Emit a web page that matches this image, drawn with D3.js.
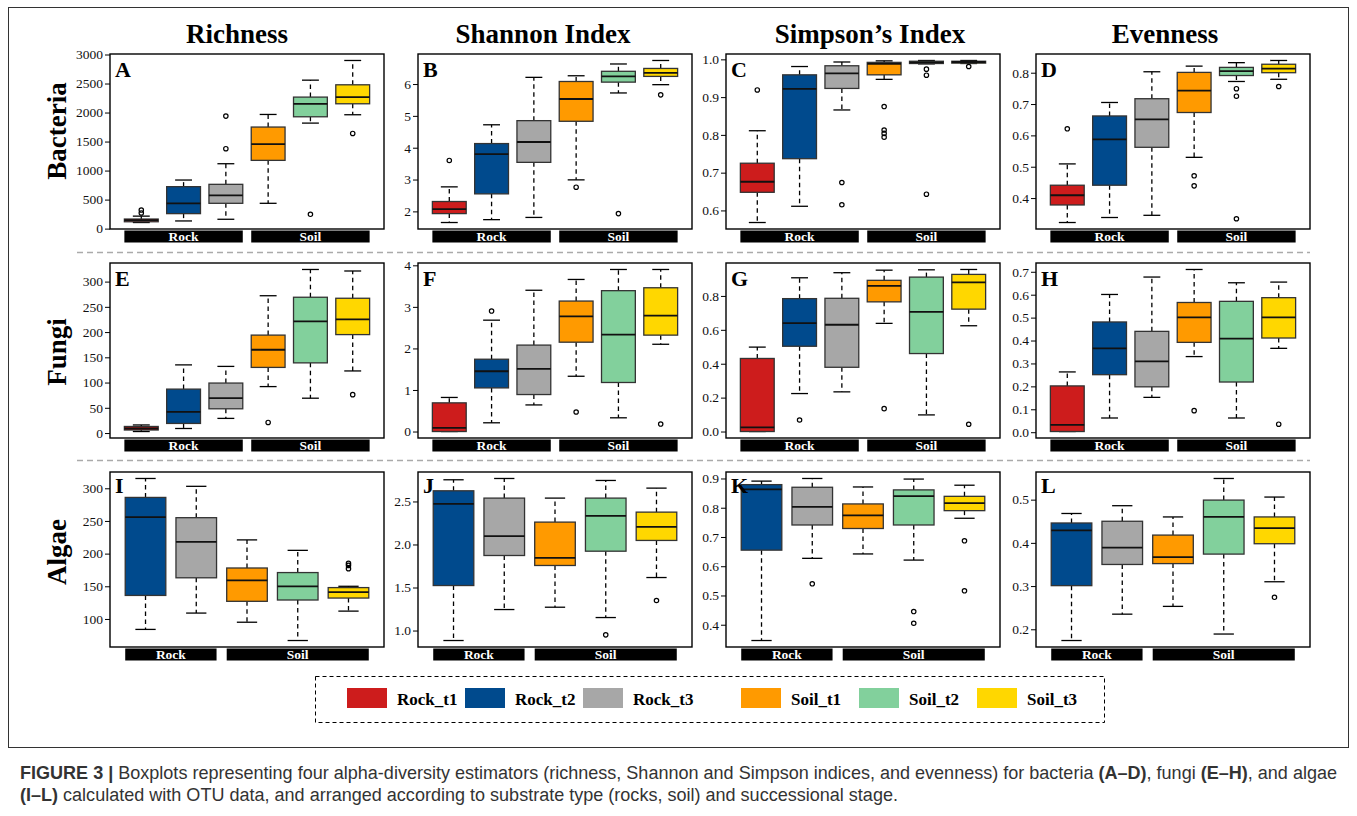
<!DOCTYPE html>
<html>
<head>
<meta charset="utf-8">
<script src="https://cdn.jsdelivr.net/npm/d3@7"></script>
<style>body{margin:0;background:#fff}</style>
</head>
<body>
<svg id="fig" width="1357" height="816"></svg>
<script>
// ---------------- data ----------------
const groups = ["Rock_t1", "Rock_t2", "Rock_t3", "Soil_t1", "Soil_t2", "Soil_t3"];
const columns = ["Richness", "Shannon Index", "Simpson\u2019s Index", "Evenness"];
const rows = ["Bacteria", "Fungi", "Algae"];
const letters = ["A","B","C","D","E","F","G","H","I","J","K","L"];

// each box: [lower whisker, q1, median, q3, upper whisker]
// Bacteria
const statsA = [[105,118,145,165,215],[132,258,436,723,837],[161,436,574,763,1118],[436,1176,1457,1750,1967],[1818,1927,2151,2266,2558],[1962,2151,2266,2478,2897]];
const outA = [[270,320],[],[1377,1939],[],[247],[1640]];
const statsB = [[1.65,1.93,2.07,2.31,2.77],[1.74,2.55,3.80,4.13,4.72],[1.81,3.54,4.18,4.85,6.21],[2.99,4.83,5.53,6.08,6.26],[5.72,6.06,6.24,6.40,6.63],[5.98,6.24,6.35,6.49,6.74]];
const outB = [[3.60],[],[],[2.76],[1.93],[5.66]];
const statsC = [[0.568,0.648,0.676,0.725,0.811],[0.611,0.737,0.922,0.959,0.981],[0.866,0.923,0.963,0.983,0.993],[0.947,0.959,0.988,0.992,0.996],[0.988,0.989,0.992,0.995,0.997],[0.989,0.990,0.993,0.995,0.997]];
const outC = [[0.919],[],[0.674,0.615],[0.875,0.813,0.804,0.794],[0.974,0.958,0.643],[0.981]];
const statsD = [[0.322,0.378,0.409,0.441,0.509],[0.338,0.441,0.587,0.662,0.705],[0.345,0.562,0.651,0.717,0.803],[0.530,0.673,0.743,0.801,0.821],[0.772,0.791,0.805,0.817,0.832],[0.779,0.800,0.813,0.827,0.839]];
const outD = [[0.621],[],[],[0.471,0.439],[0.749,0.725,0.334],[0.756]];
// Fungi
const statsE = [[3,6,9,13,16],[9,19,42,87,135],[29,48,69,99,132],[92,130,165,194,272],[69,139,221,269,324],[123,195,225,267,321]];
const outE = [[],[],[],[21],[],[76]];
const statsF = [[0,0,0.09,0.69,0.82],[0.21,1.05,1.45,1.74,2.68],[0.64,0.89,1.51,2.08,3.40],[1.33,2.15,2.77,3.14,3.66],[0.33,1.18,2.33,3.39,3.90],[2.10,2.32,2.79,3.46,3.90]];
const outF = [[],[2.90],[],[0.47],[],[0.18]];
const statsG = [[0,0,0.025,0.431,0.498],[0.224,0.503,0.640,0.784,0.907],[0.234,0.379,0.630,0.786,0.937],[0.638,0.765,0.859,0.892,0.952],[0.098,0.460,0.706,0.911,0.954],[0.624,0.722,0.880,0.927,0.956]];
const outG = [[],[0.068],[],[0.135],[],[0.043]];
const statsH = [[0.003,0.003,0.032,0.202,0.263],[0.062,0.251,0.366,0.481,0.601],[0.152,0.198,0.309,0.440,0.677],[0.330,0.392,0.501,0.566,0.710],[0.062,0.219,0.408,0.571,0.652],[0.366,0.411,0.501,0.587,0.655]];
const outH = [[],[],[],[0.094],[],[0.035]];
// Algae (no Rock_t1)
const statsI = [[84,136,256,286,315],[109,163,218,255,303],[95,127,159,178,221],[67,129,150,171,205],[112,132,141,148,150]];
const outI = [[],[],[],[],[177,182,185]];
const statsJ = [[0.884,1.523,2.473,2.624,2.752],[1.244,1.872,2.097,2.539,2.767],[1.271,1.756,1.845,2.260,2.539],[1.151,1.922,2.333,2.539,2.744],[1.616,2.047,2.205,2.376,2.655]];
const outJ = [[],[],[],[0.95],[1.349]];
const statsK = [[0.346,0.655,0.863,0.879,0.891],[0.627,0.741,0.803,0.870,0.900],[0.642,0.729,0.774,0.813,0.871],[0.621,0.741,0.840,0.861,0.898],[0.764,0.790,0.816,0.839,0.877]];
const outK = [[],[0.540],[],[0.445,0.405],[0.687,0.516]];
const statsL = [[0.174,0.301,0.429,0.446,0.468],[0.235,0.350,0.389,0.450,0.486],[0.253,0.352,0.367,0.418,0.460],[0.189,0.374,0.460,0.499,0.549],[0.310,0.398,0.434,0.460,0.506]];
const outL = [[],[],[],[],[0.274]];

// tick values
const ticksA = [0,500,1000,1500,2000,2500,3000];
const ticksB = [2,3,4,5,6];
const ticksC = [0.6,0.7,0.8,0.9,1.0];
const ticksD = [0.4,0.5,0.6,0.7,0.8];
const ticksE = [0,50,100,150,200,250,300];
const ticksF = [0,1,2,3,4];
const ticksG = [0,0.2,0.4,0.6,0.8];
const ticksH = [0,0.1,0.2,0.3,0.4,0.5,0.6,0.7];
const ticksI = [100,150,200,250,300];
const ticksJ = [1.0,1.5,2.0,2.5];
const ticksK = [0.4,0.5,0.6,0.7,0.8,0.9];
const ticksL = [0.2,0.3,0.4,0.5];

const caption1 = [["FIGURE 3 | ", true], ["Boxplots representing four alpha-diversity estimators (richness, Shannon and Simpson indices, and evenness) for bacteria ", false], ["(A\u2013D)", true], [", fungi ", false], ["(E\u2013H)", true], [", and algae", false]];
const caption2 = [["(I\u2013L)", true], [" calculated with OTU data, and arranged according to substrate type (rocks, soil) and successional stage.", false]];

// ---------------- style / layout ----------------
const colors = ["#cd1c1c", "#004a8d", "#a7a7a7", "#ff9a00", "#82d09c", "#ffd700"];
const serif = "'Liberation Serif', 'Times New Roman', serif";
const sans = "'Liberation Sans', Arial, sans-serif";
const colLeft = [110, 418, 726, 1036];
const rowTop = [54, 263, 472];
const titleX = [237, 543, 870, 1165];
const pw = 274, ph = 175;

const svg = d3.select("#fig");

// outer frame
svg.append("rect").attr("x", 8.5).attr("y", 7.5).attr("width", 1340).attr("height", 740)
  .attr("fill", "none").attr("stroke", "#333").attr("stroke-width", 1);

// column titles
columns.forEach((c, i) => {
  svg.append("text").attr("x", titleX[i]).attr("y", 43).attr("text-anchor", "middle")
    .attr("font-family", serif).attr("font-weight", "bold").attr("font-size", 27).text(c);
});

// row titles
const rowY = [131, 352, 552];
rows.forEach((r, i) => {
  svg.append("text").attr("transform", `translate(66,${rowY[i]}) rotate(-90)`)
    .attr("text-anchor", "middle").attr("font-family", serif).attr("font-weight", "bold")
    .attr("font-size", 27).text(r);
});

// dashed separators
[252.5, 460.5].forEach(yy => {
  svg.append("line").attr("x1", 77).attr("x2", 1310).attr("y1", yy).attr("y2", yy)
    .attr("stroke", "#aaa").attr("stroke-width", 1.3).attr("stroke-dasharray", "6,4");
});

function drawPanel(ci, ri, stats, outs, ticks, fmt, colorIdx, nRock) {
  const n = stats.length;
  const g = svg.append("g").attr("transform", `translate(${colLeft[ci]},${rowTop[ri]})`);
  const x = d3.scaleLinear().domain([0.5 - 0.04 * n, n + 0.5 + 0.04 * n]).range([0, pw]);
  const all = stats.flat().concat(outs.flat());
  const lo = d3.min(all), hi = d3.max(all), pad = (hi - lo) * 0.04;
  const y = d3.scaleLinear().domain([lo - pad, hi + pad]).range([ph, 0]);

  const ax = g.append("g").call(d3.axisLeft(y).tickValues(ticks).tickFormat(d3.format(fmt)).tickSize(5).tickPadding(2));
  ax.select(".domain").remove();
  ax.selectAll("line").attr("stroke", "#000");
  ax.selectAll("text").attr("font-family", serif).attr("font-size", 13.5).attr("fill", "#111");

  const bw = (x(2) - x(1)) * 0.8;
  stats.forEach((s, i) => {
    const cx = x(i + 1);
    const [wl, q1, md, q3, wh] = s;
    const bx = g.append("g");
    bx.append("line").attr("x1", cx).attr("x2", cx).attr("y1", y(q3)).attr("y2", y(wh))
      .attr("stroke", "#000").attr("stroke-width", 1.3).attr("stroke-dasharray", "4.5,3.5");
    bx.append("line").attr("x1", cx).attr("x2", cx).attr("y1", y(q1)).attr("y2", y(wl))
      .attr("stroke", "#000").attr("stroke-width", 1.3).attr("stroke-dasharray", "4.5,3.5");
    [wl, wh].forEach(v => {
      bx.append("line").attr("x1", cx - bw / 4).attr("x2", cx + bw / 4).attr("y1", y(v)).attr("y2", y(v))
        .attr("stroke", "#000").attr("stroke-width", 1.3);
    });
    bx.append("rect").attr("x", cx - bw / 2).attr("width", bw).attr("y", y(q3)).attr("height", Math.max(y(q1) - y(q3), 0.5))
      .attr("fill", colors[colorIdx[i]]).attr("stroke", "#333").attr("stroke-width", 1.3);
    bx.append("line").attr("x1", cx - bw / 2).attr("x2", cx + bw / 2).attr("y1", y(md)).attr("y2", y(md))
      .attr("stroke", "#111").attr("stroke-width", 1.8);
    outs[i].forEach(v => {
      bx.append("circle").attr("cx", cx).attr("cy", y(v)).attr("r", 2.2)
        .attr("fill", "none").attr("stroke", "#000").attr("stroke-width", 1.2);
    });
  });

  g.append("rect").attr("width", pw).attr("height", ph).attr("fill", "none")
    .attr("stroke", "#000").attr("stroke-width", 1.4);

  g.append("text").attr("x", 5).attr("y", ri === 2 ? 21 : 23).attr("font-family", serif)
    .attr("font-weight", "bold").attr("font-size", 22).text(letters[ri * 4 + ci]);

  const bars = [["Rock", 1, nRock], ["Soil", nRock + 1, n]];
  bars.forEach(([lab, a, b]) => {
    const x0 = x(a - 0.4), x1 = x(b + 0.4);
    g.append("rect").attr("x", x0).attr("width", x1 - x0).attr("y", ph + 1.5).attr("height", 12).attr("fill", "#000");
    g.append("text").attr("x", (x0 + x1) / 2).attr("y", ph + 12).attr("text-anchor", "middle")
      .attr("font-family", serif).attr("font-weight", "bold").attr("font-size", 13.5).attr("fill", "#fff").text(lab);
  });
}

const six = [0, 1, 2, 3, 4, 5];
const five = [1, 2, 3, 4, 5];
drawPanel(0, 0, statsA, outA, ticksA, "d", six, 3);
drawPanel(1, 0, statsB, outB, ticksB, "d", six, 3);
drawPanel(2, 0, statsC, outC, ticksC, ".1f", six, 3);
drawPanel(3, 0, statsD, outD, ticksD, ".1f", six, 3);
drawPanel(0, 1, statsE, outE, ticksE, "d", six, 3);
drawPanel(1, 1, statsF, outF, ticksF, "d", six, 3);
drawPanel(2, 1, statsG, outG, ticksG, ".1f", six, 3);
drawPanel(3, 1, statsH, outH, ticksH, ".1f", six, 3);
drawPanel(0, 2, statsI, outI, ticksI, "d", five, 2);
drawPanel(1, 2, statsJ, outJ, ticksJ, ".1f", five, 2);
drawPanel(2, 2, statsK, outK, ticksK, ".1f", five, 2);
drawPanel(3, 2, statsL, outL, ticksL, ".1f", five, 2);

// legend
svg.append("rect").attr("x", 315.5).attr("y", 676.5).attr("width", 789).attr("height", 46)
  .attr("fill", "none").attr("stroke", "#000").attr("stroke-width", 1).attr("stroke-dasharray", "4,3");
groups.forEach((gname, i) => {
  const lx = 347 + i * 118 + (i >= 3 ? 40 : 0);
  svg.append("rect").attr("x", lx).attr("y", 688).attr("width", 40).attr("height", 20).attr("fill", colors[i]);
  svg.append("text").attr("x", lx + 50).attr("y", 705).attr("font-family", serif)
    .attr("font-weight", "bold").attr("font-size", 17).text(gname);
});

// caption
function captionLine(parts, yy) {
  const t = svg.append("text").attr("x", 20).attr("y", yy).attr("font-family", sans)
    .attr("font-size", 15).attr("fill", "#333");
  parts.forEach(([s, b]) => t.append("tspan").attr("font-weight", b ? "bold" : "normal").text(s));
  return t;
}
const c1 = captionLine(caption1, 779);
const c2 = captionLine(caption2, 801);
const len = c1.node().getComputedTextLength();
const fs = 15 * 1318 / len;
c1.attr("font-size", fs);
c2.attr("font-size", fs);
</script>
</body>
</html>
